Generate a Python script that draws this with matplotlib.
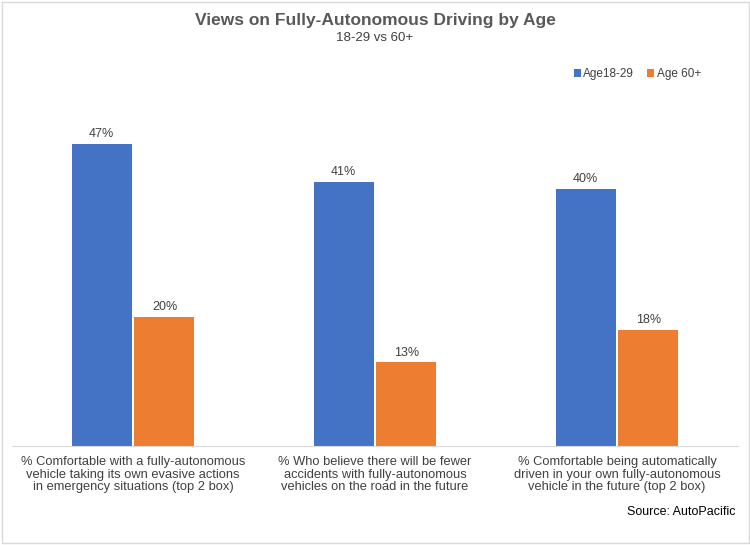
import matplotlib.pyplot as plt
import numpy as np
from matplotlib.patches import Rectangle

plt.rcParams['font.family'] = ['Liberation Sans', 'DejaVu Sans']

categories = [
    "% Comfortable with a fully-autonomous\nvehicle taking its own evasive actions\nin emergency situations (top 2 box)",
    "% Who believe there will be fewer\naccidents with fully-autonomous\nvehicles on the road in the future",
    "% Comfortable being automatically\ndriven in your own fully-autonomous\nvehicle in the future (top 2 box)",
]
age_18_29 = [47, 41, 40]
age_60_plus = [20, 13, 18]

fig = plt.figure(figsize=(7.5, 5.45), dpi=100)
ax = fig.add_axes([0.016, 0.1817, 0.968, 0.59])

x = np.arange(len(categories))
w = 0.248
gap = 0.012
b1 = ax.bar(x - w / 2 - gap / 2, age_18_29, w, color='#4472C4', label='Age18-29')
b2 = ax.bar(x + w / 2 + gap / 2, age_60_plus, w, color='#ED7D31', label='Age 60+')

# value labels above each bar
for bars in (b1, b2):
    for r in bars:
        ax.text(r.get_x() + r.get_width() / 2, r.get_height() + 0.6, f"{r.get_height():.0f}%",
                ha='center', va='bottom', fontsize=9, color='#404040')

ax.set_xlim(-0.5, 2.5)
ax.set_ylim(0, 50)
ax.set_yticks([])
ax.set_xticks(x)
ax.set_xticklabels(categories, fontsize=9.3, color='#404040', linespacing=1.1)
ax.tick_params(axis='x', length=0, pad=7)
for s in ['top', 'right', 'left']:
    ax.spines[s].set_visible(False)
ax.spines['bottom'].set_color('#d9d9d9')

fig.text(0.5, 0.963, "Views on Fully-Autonomous Driving by Age", ha='center', va='center',
         fontsize=12.5, fontweight='bold', color='#595959')
fig.text(0.5, 0.931, "18-29 vs 60+", ha='center', va='center', fontsize=9.5, color='#404040')

fig.legend(loc='center', bbox_to_anchor=(0.85, 0.864), ncol=2, frameon=False, fontsize=8.5,
           handlelength=0.6, handleheight=0.6, handletextpad=0.2, columnspacing=1.1,
           labelcolor='#404040')

fig.text(0.981, 0.0606, "Source: AutoPacific", ha='right', va='center', fontsize=9, color='black')

fig.patches.append(Rectangle((0.002, 0.003), 0.996, 0.994, transform=fig.transFigure,
                             fill=False, edgecolor='#d9d9d9', linewidth=1))

fig.savefig('out.png', dpi=100, facecolor='white')
